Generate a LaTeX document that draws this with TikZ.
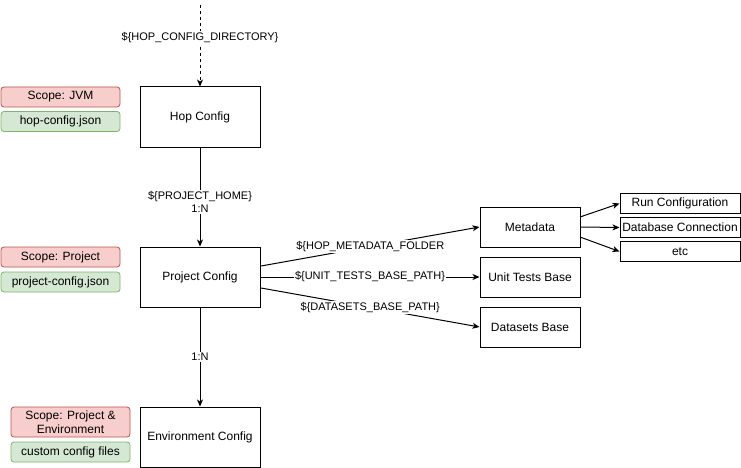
\documentclass[tikz,border=0pt]{standalone}
\usepackage{fontspec}
\setmainfont{Liberation Sans}
\usetikzlibrary{arrows.meta}
\definecolor{redfill}{HTML}{F8CECC}
\definecolor{redline}{HTML}{B85450}
\definecolor{greenfill}{HTML}{D5E8D4}
\definecolor{greenline}{HTML}{82B366}
\tikzset{
  box/.style={draw=black, line width=1pt, fill=white, inner sep=0pt, font=\fontsize{12}{14}\selectfont, align=center},
  redtag/.style={draw=redline, fill=redfill, rounded corners=3pt, line width=0.8pt, inner sep=0pt, font=\fontsize{12}{14}\selectfont, align=center},
  greentag/.style={draw=greenline, fill=greenfill, rounded corners=3pt, line width=0.8pt, inner sep=0pt, font=\fontsize{12}{14}\selectfont, align=center},
  conn/.style={draw=black, line width=1pt, -{Stealth[length=7pt,width=6pt,inset=2pt]}},
  elabel/.style={fill=white, inner sep=1pt, font=\fontsize{11}{13}\selectfont, align=center, text=black},
}
\begin{document}
\begin{tikzpicture}[x=1pt,y=-1pt]
\useasboundingbox (0,0) rectangle (741,468);
% main boxes
\node[box, minimum width=120pt, minimum height=60pt] (hop) at (200,117) {Hop Config};
\node[box, minimum width=120pt, minimum height=60pt] (proj) at (200,277) {Project Config};
\node[box, minimum width=120pt, minimum height=60pt] (env) at (200,437) {Environment Config};
\node[box, minimum width=100pt, minimum height=40pt] (meta) at (530,227) {Metadata};
\node[box, minimum width=100pt, minimum height=40pt] (unit) at (530,277) {Unit Tests Base};
\node[box, minimum width=100pt, minimum height=40pt] (data) at (530,327) {Datasets Base};
\node[box, minimum width=120pt, minimum height=20pt] (run) at (680,203.5) {Run Configuration};
\node[box, minimum width=120pt, minimum height=20pt] (db) at (680,227.5) {Database Connection};
\node[box, minimum width=120pt, minimum height=20pt] (etc) at (680,251.5) {etc};
% tags
\node[redtag, minimum width=119pt, minimum height=20pt] (sjvm) at (60.5,97) {Scope: JVM};
\node[greentag, minimum width=119pt, minimum height=20pt] (hopjson) at (60.5,121.5) {hop-config.json};
\node[redtag, minimum width=119pt, minimum height=20pt] (sproj) at (60.5,257) {Scope: Project};
\node[greentag, minimum width=119pt, minimum height=20pt] (projjson) at (60.5,282) {project-config.json};
\node[redtag, minimum width=119pt, minimum height=30pt] (senv) at (70.5,422) {Scope: Project \&\\Environment};
\node[greentag, minimum width=119pt, minimum height=20pt] (custom) at (70.5,452) {custom config files};
% connectors
\coordinate (top) at (200,5);
\draw[conn, dash pattern=on 3pt off 3pt] (top) -- node[elabel, pos=0.4] {\$\{HOP\_CONFIG\_DIRECTORY\}} (hop.north);
\draw[conn] (hop.south) -- node[elabel, pos=0.55] {\$\{PROJECT\_HOME\}\\1:N} (proj.north);
\draw[conn] (proj.south) -- node[elabel, pos=0.5] {1:N} (env.north);
\draw[conn] (261,266) -- node[elabel, pos=0.5] {\$\{HOP\_METADATA\_FOLDER} (meta.west);
\draw[conn] (proj.east) -- node[elabel, pos=0.5] {\$\{UNIT\_TESTS\_BASE\_PATH\}} (unit.west);
\draw[conn] (261,288) -- node[elabel, pos=0.5] {\$\{DATASETS\_BASE\_PATH\}} (data.west);
\draw[conn] (580,217) -- (run.west);
\draw[conn] (meta.east) -- (db.west);
\draw[conn] (580,237) -- (etc.west);
\end{tikzpicture}
\end{document}
